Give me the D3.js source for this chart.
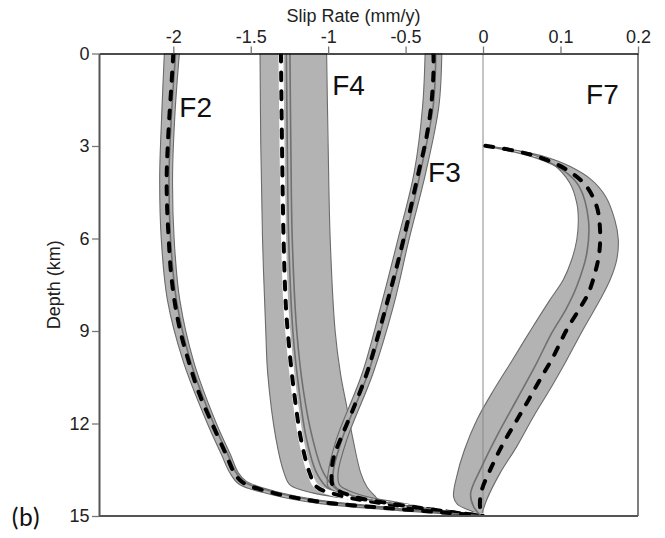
<!DOCTYPE html>
<html>
<head>
<meta charset="utf-8">
<script src="https://cdn.jsdelivr.net/npm/d3@7"></script>
<style>
body{margin:0;background:#fff;}
svg{display:block;font-family:"Liberation Sans",Arial,sans-serif;}
</style>
</head>
<body>
<div id="chart"></div>
<script>
// ticks
const xTicks = [-2, -1.5, -1, -0.5, 0, 0.1, 0.2];
const yTicks = [0, 3, 6, 9, 12, 15];
const faultNames = ['F2', 'F4', 'F3', 'F7'];

// every series is [depth (km), slip rate (mm/y)]
// F2
const f2Left = [[0,-2.058],[2,-2.075],[4,-2.088],[6,-2.078],[8,-2.038],[10,-1.935],[12,-1.78],[13,-1.69],[13.6,-1.635],[13.97,-1.575],[14.3,-1.37],[14.6,-1.05],[14.8,-0.6],[15,0]];
const f2Right = [[0,-1.961],[2,-1.99],[4,-2.005],[6,-1.995],[8,-1.958],[10,-1.868],[12,-1.722],[13,-1.632],[13.6,-1.58],[13.87,-1.53],[14.2,-1.345],[14.5,-1.04],[14.72,-0.6],[15,0]];
const f2Solid = [[0,-1.985],[2,-2.012],[4,-2.028],[6,-2.018],[8,-1.98],[10,-1.888],[12,-1.74],[13,-1.648],[13.6,-1.594],[13.9,-1.54],[14.22,-1.35],[14.5,-1.07],[14.75,-0.6],[15,0]];
const f2Dash = [[0,-2.0],[1,-2.012],[2,-2.025],[3,-2.036],[4,-2.043],[5,-2.04],[6,-2.03],[7,-2.017],[8,-1.993],[9,-1.955],[10,-1.9],[11,-1.835],[12,-1.75],[13,-1.66],[13.6,-1.606],[13.92,-1.55],[14.25,-1.355],[14.42,-1.2],[14.55,-1.04],[14.65,-0.85],[14.75,-0.6],[14.87,-0.3],[15,0]];

// F4
const f4Left = [[0,-1.44],[3,-1.435],[6,-1.424],[9,-1.403],[10.4,-1.39],[12.5,-1.337],[13.6,-1.285],[14.0,-1.245],[14.25,-1.1],[14.4,-0.93]];
const f4Right = [[0,-1.01],[3,-1.0],[6,-0.987],[9,-0.955],[10.4,-0.92],[11.45,-0.88],[12.5,-0.84],[13.6,-0.79],[14.05,-0.75],[14.4,-0.69],[14.55,-0.665]];
const f4SolidA = [[0,-1.27],[3,-1.264],[6,-1.255],[9,-1.228],[11,-1.186],[12.5,-1.14],[13.6,-1.075],[14.1,-1.0],[14.4,-0.84],[14.7,-0.45],[15,0]];
const f4SolidB = [[0,-1.247],[3,-1.241],[6,-1.232],[9,-1.203],[11,-1.158],[12.5,-1.1],[13.6,-1.03],[14.15,-0.94],[14.45,-0.77],[14.75,-0.4],[15,0]];
const f4Dash = [[0,-1.305],[3,-1.298],[6,-1.288],[8.2,-1.273],[9.3,-1.256],[10.4,-1.234],[11.45,-1.208],[12.5,-1.176],[13.6,-1.12],[14.05,-1.075],[14.3,-0.95],[14.55,-0.7],[14.75,-0.4],[15,0]];

// F3
const f3Left = [[0,-0.374],[1.71,-0.39],[3.87,-0.445],[6.04,-0.55],[8.2,-0.66],[10.37,-0.78],[12.53,-0.948],[13.61,-1.0],[14.05,-1.0],[14.3,-0.9],[14.55,-0.66],[14.8,-0.34],[15,0]];
const f3Right = [[0,-0.266],[1.71,-0.285],[3.87,-0.37],[6.04,-0.478],[8.2,-0.579],[10.37,-0.71],[12.53,-0.88],[13.61,-0.936],[14.0,-0.925],[14.3,-0.8],[14.55,-0.56],[14.78,-0.3],[15,0]];
const f3Solid = [[0,-0.305],[1.71,-0.322],[3.87,-0.405],[6.04,-0.505],[8.2,-0.617],[10.37,-0.742],[12.53,-0.912],[13.61,-0.968],[14.05,-0.955],[14.37,-0.825],[14.6,-0.58],[14.8,-0.3],[15,0]];
const f3Dash = [[0,-0.32],[0.63,-0.32],[1.71,-0.335],[2.79,-0.368],[3.87,-0.417],[4.96,-0.465],[6.04,-0.514],[7.12,-0.568],[8.2,-0.626],[9.29,-0.686],[10.37,-0.75],[11.45,-0.832],[12.53,-0.922],[13.07,-0.963],[13.61,-0.978],[14.05,-0.966],[14.37,-0.837],[14.59,-0.6],[14.8,-0.32],[15,0]];

// F7
const f7Left = [[2.99,0.003],[3.22,0.056],[3.6,0.0907],[4.2,0.112],[4.85,0.121],[5.39,0.123],[6.04,0.121],[6.69,0.1144],[7.34,0.1036],[7.99,0.0864],[8.96,0.0619],[9.94,0.038],[10.9,0.0142],[11.88,-0.039],[12.86,-0.12],[13.72,-0.17],[14.37,-0.19],[14.62,-0.165],[14.91,-0.04],[15,-0.012]];
const f7Right = [[2.99,0.003],[3.15,0.045],[3.35,0.08],[3.66,0.112],[4.1,0.14],[4.63,0.158],[5.39,0.17],[6.04,0.1746],[6.69,0.1725],[7.34,0.164],[7.99,0.151],[8.96,0.129],[9.94,0.108],[10.8,0.0886],[11.78,0.065],[12.75,0.0435],[13.61,0.022],[14.48,0.0047],[14.91,-0.006],[15,-0.012]];
const f7Solid = [[2.99,0.003],[3.4,0.07],[3.8,0.104],[4.31,0.124],[5.39,0.136],[6.47,0.134],[7.55,0.121],[8.3,0.107],[9.07,0.0886],[10.15,0.067],[11.23,0.0435],[12.32,0.0197],[13.4,-0.008],[14.27,-0.08],[14.7,-0.06],[15,-0.012]];
const f7Dash = [[2.99,0.003],[3.17,0.0435],[3.39,0.0757],[3.74,0.106],[4.25,0.1316],[4.96,0.1467],[5.71,0.151],[6.47,0.15],[7.12,0.1445],[7.77,0.136],[8.3,0.124],[8.96,0.108],[9.83,0.0907],[10.58,0.0735],[11.34,0.0564],[11.99,0.0413],[12.64,0.0262],[13.4,0.0112],[14.16,-0.008],[14.6,-0.02],[15,-0.012]];

const W = 665, H = 538;
const plot = {left: 99, right: 638, top: 53.5, bottom: 516};

// slip-rate axis is split: negative side and positive side use different unit lengths
const x = d3.scaleLinear().domain([-2.48, 0, 0.2]).range([plot.left, 483, plot.right]);
const y = d3.scaleLinear().domain([0, 15]).range([plot.top, plot.bottom]);

const svg = d3.select('#chart').append('svg')
    .attr('width', W).attr('height', H)
    .style('background-color', 'white');

svg.append('defs').append('clipPath').attr('id', 'clip')
  .append('rect')
    .attr('x', plot.left).attr('y', plot.top)
    .attr('width', plot.right - plot.left).attr('height', plot.bottom - plot.top);

const g = svg.append('g').attr('clip-path', 'url(#clip)');

const line = d3.line()
    .x(d => x(d[1]))
    .y(d => y(d[0]))
    .curve(d3.curveCatmullRom.alpha(0.5));

function band(left, right) {
    return line(left.concat(right.slice().reverse())) + 'Z';
}

const faults = [
    {bands: [[f4Left, f4Right]], solids: [f4SolidA, f4SolidB], dash: f4Dash, halo: true},
    {bands: [[f3Left, f3Right]], solids: [f3Solid], dash: f3Dash},
    {bands: [[f2Left, f2Right]], solids: [f2Solid], dash: f2Dash},
    {bands: [[f7Left, f7Right]], solids: [f7Solid], dash: f7Dash}
];

// bands first
faults.forEach(f => {
    f.bands.forEach(b => {
        g.append('path')
            .attr('d', band(b[0], b[1]))
            .attr('fill', '#b3b3b3')
            .attr('stroke', '#6b6b6b')
            .attr('stroke-width', 1.1);
    });
});

// zero line
g.append('line')
    .attr('x1', x(0)).attr('x2', x(0))
    .attr('y1', plot.top).attr('y2', plot.bottom)
    .attr('stroke', '#8a8a8a').attr('stroke-width', 1);

faults.forEach(f => {
    f.solids.forEach(s => {
        g.append('path')
            .attr('d', line(s))
            .attr('fill', 'none')
            .attr('stroke', '#707070')
            .attr('stroke-width', 1.6);
    });
    if (f.halo) {
        g.append('path')
            .attr('d', line(f.dash))
            .attr('fill', 'none')
            .attr('stroke', '#fff')
            .attr('stroke-width', 5);
    }
    g.append('path')
        .attr('d', line(f.dash))
        .attr('fill', 'none')
        .attr('stroke', '#000')
        .attr('stroke-width', 4)
        .attr('stroke-linecap', 'round')
        .attr('stroke-dasharray', '8,11');
});

// frame
svg.append('line')
    .attr('x1', plot.right).attr('x2', plot.right)
    .attr('y1', plot.top).attr('y2', plot.bottom)
    .attr('stroke', '#555').attr('stroke-width', 1.5);
svg.append('line')
    .attr('x1', plot.left).attr('x2', plot.right)
    .attr('y1', plot.bottom).attr('y2', plot.bottom)
    .attr('stroke', '#555').attr('stroke-width', 2);

// top axis
const gx = svg.append('g')
    .attr('transform', 'translate(0,' + plot.top + ')')
    .call(d3.axisTop(x).tickValues(xTicks).tickFormat(d => String(d)).tickSize(7).tickPadding(3.5).tickSizeOuter(0));
gx.select('.domain').attr('stroke', '#111').attr('stroke-width', 1.5);
gx.selectAll('.tick line').attr('stroke', '#777').attr('stroke-width', 1.3);
gx.selectAll('.tick text').attr('font-size', 18).attr('fill', '#222')
    .attr('font-family', '"Liberation Sans",Arial,sans-serif');

// left axis
const gy = svg.append('g')
    .attr('transform', 'translate(' + plot.left + ',0)')
    .call(d3.axisLeft(y).tickValues(yTicks).tickSize(7).tickPadding(2.5).tickSizeOuter(0));
gy.select('.domain').attr('stroke', '#555').attr('stroke-width', 2);
gy.selectAll('.tick line').attr('stroke', '#777').attr('stroke-width', 1.3);
gy.selectAll('.tick text').attr('font-size', 18).attr('fill', '#222')
    .attr('font-family', '"Liberation Sans",Arial,sans-serif');

// axis titles
svg.append('text')
    .attr('x', 353.5).attr('y', 21.5)
    .attr('text-anchor', 'middle')
    .attr('font-size', 18).attr('fill', '#222')
    .text('Slip Rate (mm/y)');
svg.append('text')
    .attr('transform', 'translate(60,' + ((plot.top + plot.bottom) / 2) + ') rotate(-90)')
    .attr('text-anchor', 'middle')
    .attr('font-size', 18).attr('fill', '#222')
    .text('Depth (km)');

// fault names
const namePos = {F2: [-1.961, 2.06], F4: [-0.974, 1.34], F3: [-0.355, 4.17], F7: [0.133, 1.64]};
faultNames.forEach(n => {
    svg.append('text')
        .attr('x', x(namePos[n][0])).attr('y', y(namePos[n][1]))
        .attr('font-size', 28).attr('fill', '#111')
        .text(n);
});

// panel letter
svg.append('text')
    .attr('x', 11).attr('y', 526)
    .attr('font-size', 26).attr('fill', '#111')
    .attr('font-family', 'Carlito,Calibri,"Liberation Sans",sans-serif')
    .text('(b)');
</script>
</body>
</html>
